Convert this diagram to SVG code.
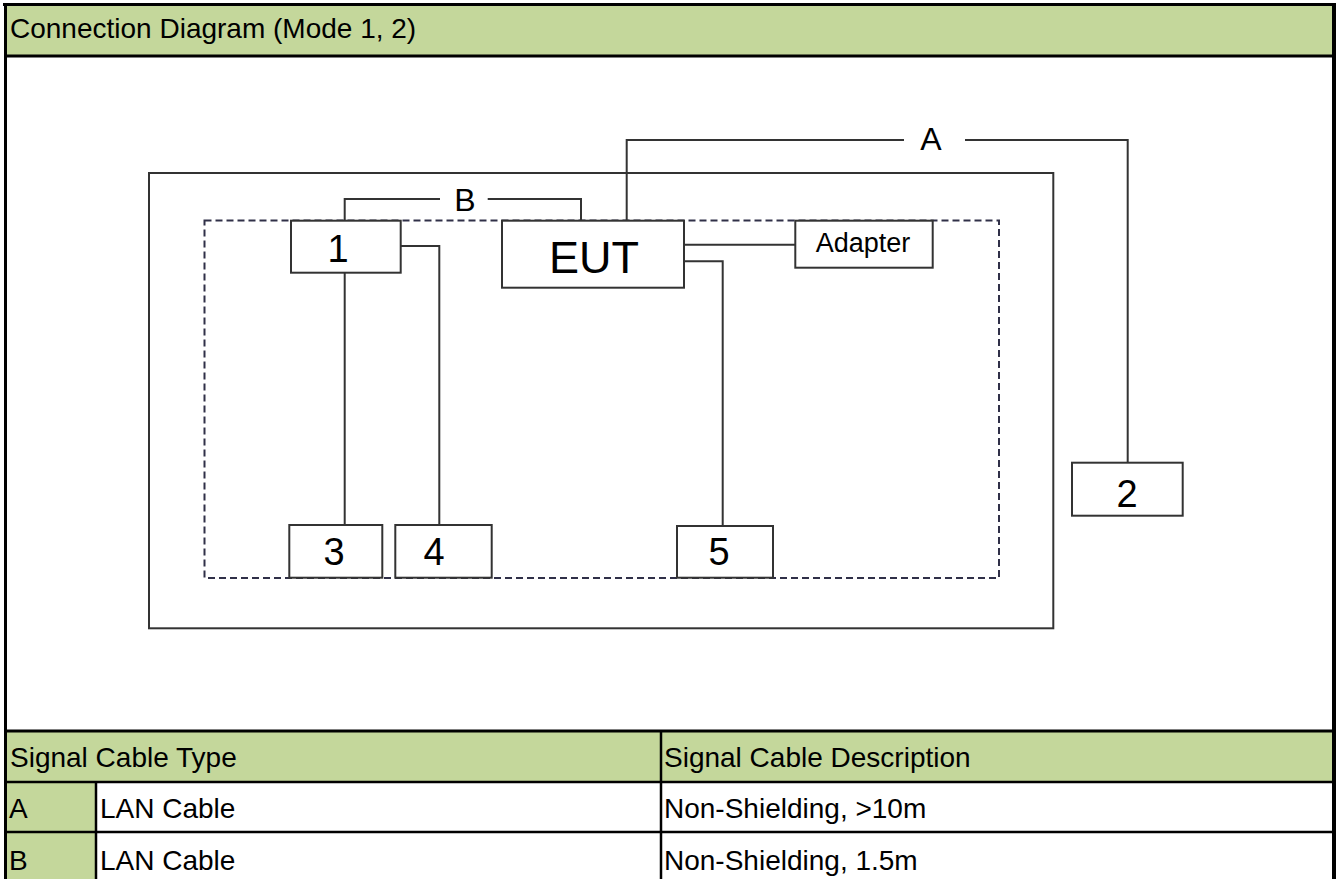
<svg xmlns="http://www.w3.org/2000/svg" width="1339" height="879" viewBox="0 0 1339 879">
<style>
.t{font-family:"Liberation Sans",Arial,sans-serif;fill:#000}
.cell{font-size:28px}
.box{fill:#fff;stroke:#333;stroke-width:2}
.wire{fill:none;stroke:#333;stroke-width:2}
.dig{font-size:38px;text-anchor:middle}
.grid{stroke:#000;fill:none}
.green{fill:#c4d79b}
</style>
<rect x="0" y="0" width="1339" height="879" fill="#fff"/>
<g id="table">
<rect class="green" x="5" y="5" width="1329" height="51"/>
<rect class="green" x="5" y="731" width="1329" height="51"/>
<rect class="green" x="5" y="782" width="91" height="97"/>
<line class="grid" x1="3" y1="4.5" x2="1336" y2="4.5" stroke-width="3"/>
<line class="grid" x1="5" y1="56" x2="1334" y2="56" stroke-width="3"/>
<line class="grid" x1="5" y1="731" x2="1334" y2="731" stroke-width="3"/>
<line class="grid" x1="5" y1="782" x2="1334" y2="782" stroke-width="2.5"/>
<line class="grid" x1="5" y1="832" x2="1334" y2="832" stroke-width="2.5"/>
<line class="grid" x1="96" y1="782" x2="96" y2="879" stroke-width="2.5"/>
<line class="grid" x1="661" y1="731" x2="661" y2="879" stroke-width="2.5"/>
<line class="grid" x1="5.5" y1="3" x2="5.5" y2="879" stroke-width="3"/>
<line class="grid" x1="1334" y1="3" x2="1334" y2="879" stroke-width="4"/>
<text class="t cell" x="10" y="38">Connection Diagram (Mode 1, 2)</text>
<text class="t cell" x="10" y="767">Signal Cable Type</text>
<text class="t cell" x="664" y="767">Signal Cable Description</text>
<text class="t cell" x="9" y="818">A</text>
<text class="t cell" x="100" y="818">LAN Cable</text>
<text class="t cell" x="664" y="818">Non-Shielding, &gt;10m</text>
<text class="t cell" x="9" y="870">B</text>
<text class="t cell" x="100" y="870">LAN Cable</text>
<text class="t cell" x="664" y="870">Non-Shielding, 1.5m</text>
</g>
<g id="enclosure">
<rect x="149" y="173" width="904.3" height="455.3" fill="none" stroke="#333" stroke-width="2"/>
<rect x="204.5" y="220.5" width="794.5" height="357.5" fill="none" stroke="#303048" stroke-width="2" stroke-dasharray="7 4"/>
</g>
<g id="connectors">
<polyline class="wire" points="344.7,220.7 344.7,199 440,199"/>
<polyline class="wire" points="487.7,199 581,199 581,220.7"/>
<text class="t" x="465" y="210.5" font-size="32" text-anchor="middle">B</text>
<polyline class="wire" points="626.7,220.7 626.7,140 904,140"/>
<polyline class="wire" points="965,140 1127.7,140 1127.7,463"/>
<text class="t" x="931" y="150" font-size="32" text-anchor="middle">A</text>
<line class="wire" x1="344.7" y1="272.7" x2="344.7" y2="525"/>
<polyline class="wire" points="400.7,246 439.3,246 439.3,525"/>
<line class="wire" x1="684" y1="244.7" x2="795.3" y2="244.7"/>
<polyline class="wire" points="684,261.3 722.7,261.3 722.7,526"/>
</g>
<g id="node-1">
<rect class="box" x="291" y="220.7" width="109.7" height="52"/>
<text class="t dig" x="338" y="261.7">1</text>
</g>
<g id="node-eut">
<rect class="box" x="502" y="220.7" width="182" height="67"/>
<text class="t" x="594" y="272.7" font-size="45" text-anchor="middle">EUT</text>
</g>
<g id="node-adapter">
<rect class="box" x="795.3" y="220.7" width="137.4" height="47"/>
<text class="t" x="863" y="252.3" font-size="27" text-anchor="middle">Adapter</text>
</g>
<g id="node-2">
<rect class="box" x="1072" y="462.7" width="110.7" height="53"/>
<text class="t dig" x="1127" y="506.7">2</text>
</g>
<g id="node-3">
<rect class="box" x="289.3" y="525" width="93" height="52.7"/>
<text class="t dig" x="334" y="565">3</text>
</g>
<g id="node-4">
<rect class="box" x="395.3" y="525" width="96.4" height="52.7"/>
<text class="t dig" x="434" y="565">4</text>
</g>
<g id="node-5">
<rect class="box" x="677" y="526" width="96" height="51.7"/>
<text class="t dig" x="719" y="565">5</text>
</g>
</svg>
